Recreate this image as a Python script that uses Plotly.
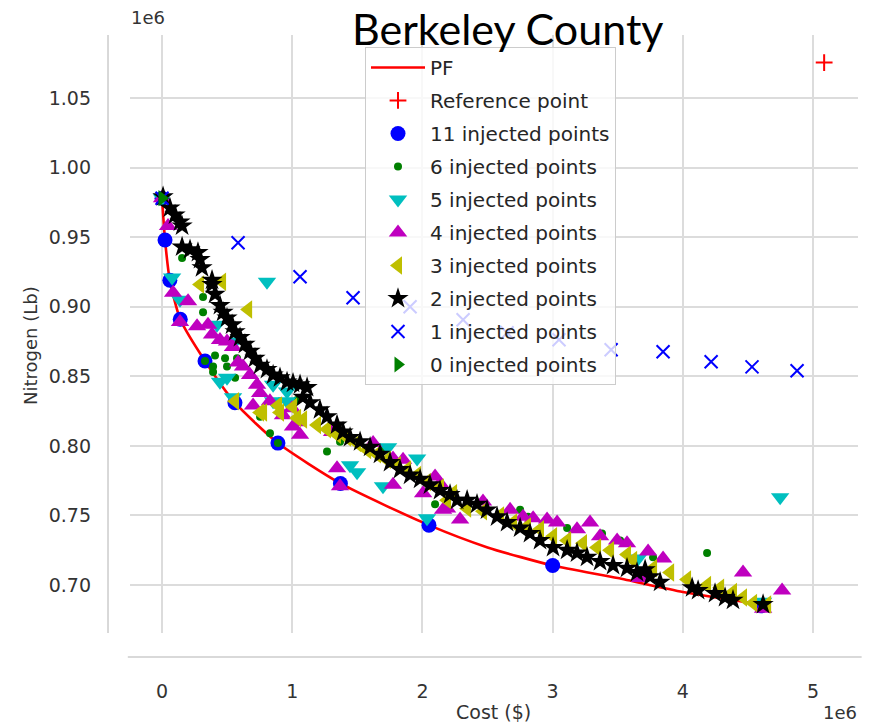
import plotly.graph_objects as go

# Values in units of 1e6 (as on the axes)
pf_cost = [0.0, 0.023, 0.06, 0.14, 0.33, 0.56, 0.89, 1.37, 2.05, 2.5, 3.0, 3.5, 4.0, 4.6]
pf_nitro = [0.978, 0.948, 0.919, 0.891, 0.861, 0.831, 0.802, 0.773, 0.743, 0.727, 0.714, 0.705, 0.695, 0.686]

ref_cost = [5.085]
ref_nitro = [1.0755]

inj11_cost = [0.0, 0.023, 0.06, 0.14, 0.33, 0.56, 0.89, 1.37, 2.05, 3.0, 4.6]
inj11_nitro = [0.978, 0.948, 0.919, 0.891, 0.861, 0.831, 0.802, 0.773, 0.743, 0.714, 0.685]

inj6_cost = [0.154, 0.315, 0.315, 0.407, 0.484, 0.392, 0.499, 0.392, 0.561, 0.576, 0.33, 0.89,
             1.037, 0.829, 0.753, 1.367, 1.267, 1.697, 2.097, 2.75, 2.811, 3.111, 3.379, 3.518,
             3.771, 4.186]
inj6_nitro = [0.935, 0.907, 0.896, 0.865, 0.863, 0.857, 0.857, 0.853, 0.849, 0.863, 0.861, 0.802,
              0.833, 0.809, 0.821, 0.803, 0.796, 0.797, 0.758, 0.754, 0.749, 0.741, 0.737, 0.732,
              0.720, 0.723]

inj5_cost = [0.0, 0.806, 0.077, 0.138, 0.422, 0.499, 0.561, 0.853, 0.960, 0.545, 0.445, 0.853,
             0.96, 1.444, 1.498, 1.736, 1.959, 1.697, 2.035, 3.656, 4.747, 4.616]
inj5_nitro = [0.978, 0.918, 0.921, 0.905, 0.887, 0.849, 0.875, 0.844, 0.839, 0.835, 0.846, 0.832,
              0.832, 0.786, 0.781, 0.799, 0.791, 0.771, 0.748, 0.719, 0.763, 0.688]

inj4_cost = [0.0, 0.046, 0.085, 0.200, 0.138, 0.269, 0.353, 0.384, 0.445, 0.499, 0.545, 0.584,
             0.622, 0.676, 0.730, 0.753, 0.699, 0.829, 0.929, 0.998, 1.037, 1.006, 1.060, 1.344,
             1.367, 1.306, 1.621, 1.774, 1.851, 1.774, 2.005, 2.097, 2.158, 2.135, 2.289, 2.189,
             2.465, 2.673, 2.773, 2.85, 2.957, 3.034, 3.187, 3.287, 3.364, 3.495, 3.571, 3.733,
             3.848, 4.462, 4.762, 4.616, 3.671]
inj4_nitro = [0.978, 0.958, 0.910, 0.904, 0.889, 0.886, 0.887, 0.880, 0.876, 0.875, 0.871, 0.860,
              0.857, 0.851, 0.844, 0.838, 0.829, 0.832, 0.822, 0.827, 0.817, 0.814, 0.808, 0.784,
              0.771, 0.810, 0.802, 0.791, 0.790, 0.772, 0.766, 0.778, 0.754, 0.773, 0.747, 0.755,
              0.760, 0.754, 0.749, 0.748, 0.747, 0.745, 0.740, 0.745, 0.735, 0.732, 0.730, 0.724,
              0.719, 0.709, 0.696, 0.683, 0.705]

inj3_cost = [0.292, 0.461, 0.661, 0.561, 0.753, 0.891, 1.037, 0.776, 0.906, 1.006, 1.083, 1.190,
             1.267, 1.344, 1.421, 1.498, 1.575, 1.651, 1.728, 1.805, 1.882, 1.959, 2.035, 2.135,
             2.235, 2.189, 2.343, 2.465, 2.596, 2.696, 2.803, 2.903, 3.003, 3.111, 3.233, 3.341,
             3.441, 3.571, 3.618, 3.771, 3.902, 4.032, 4.186, 4.286, 4.385, 4.462, 4.539, 4.647]
inj3_nitro = [0.916, 0.918, 0.898, 0.832, 0.824, 0.829, 0.820, 0.824, 0.824, 0.828, 0.819, 0.815,
              0.812, 0.808, 0.806, 0.802, 0.797, 0.794, 0.790, 0.786, 0.783, 0.779, 0.774, 0.770,
              0.766, 0.761, 0.755, 0.753, 0.750, 0.745, 0.742, 0.740, 0.735, 0.732, 0.730, 0.727,
              0.725, 0.722, 0.718, 0.712, 0.709, 0.704, 0.700, 0.698, 0.695, 0.691, 0.687, 0.686]

inj2_cost = [0.008, 0.061, 0.100, 0.138, 0.154, 0.154, 0.215, 0.276, 0.292, 0.307, 0.384, 0.384,
             0.407, 0.445, 0.469, 0.499, 0.538, 0.561, 0.599, 0.637, 0.676, 0.714, 0.753, 0.806,
             0.853, 0.906, 0.960, 1.006, 1.060, 1.114, 1.083, 1.137, 1.213, 1.267, 1.344, 1.390,
             1.444, 1.521, 1.598, 1.674, 1.751, 1.828, 1.905, 1.982, 2.058, 2.135, 2.212, 2.266,
             2.343, 2.419, 2.496, 2.573, 2.650, 2.750, 2.826, 2.903, 3.003, 3.111, 3.187, 3.264,
             3.364, 3.464, 3.571, 3.648, 3.710, 3.748, 3.825, 4.071, 4.117, 4.247, 4.324, 4.385,
             4.616]
inj2_nitro = [0.979, 0.971, 0.966, 0.961, 0.958, 0.943, 0.941, 0.939, 0.934, 0.928, 0.919, 0.916,
              0.909, 0.901, 0.896, 0.892, 0.887, 0.882, 0.878, 0.873, 0.868, 0.863, 0.858, 0.855,
              0.851, 0.849, 0.846, 0.845, 0.844, 0.842, 0.835, 0.831, 0.826, 0.821, 0.815, 0.810,
              0.806, 0.803, 0.799, 0.794, 0.788, 0.783, 0.779, 0.776, 0.772, 0.768, 0.765, 0.761,
              0.761, 0.758, 0.754, 0.749, 0.745, 0.741, 0.737, 0.732, 0.727, 0.725, 0.723, 0.720,
              0.717, 0.714, 0.712, 0.709, 0.711, 0.706, 0.702, 0.698, 0.696, 0.694, 0.691, 0.689,
              0.686]

inj1_cost = [0.0, 0.584, 1.06, 1.467, 1.905, 2.312, 2.650, 3.049, 3.449, 3.848, 4.217, 4.531, 4.877]
inj1_nitro = [0.978, 0.946, 0.9216, 0.9065, 0.900, 0.8906, 0.8813, 0.8763, 0.8691, 0.8676, 0.8604,
              0.8568, 0.8540]

inj0_cost = [0.0]
inj0_nitro = [0.978]

x_ticks = [0, 1, 2, 3, 4, 5]
y_ticks = [0.70, 0.75, 0.80, 0.85, 0.90, 0.95, 1.00, 1.05]

FONT = "DejaVu Sans"
fig = go.Figure()

fig.add_trace(go.Scatter(x=pf_cost, y=pf_nitro, mode="lines", name="PF",
                         line=dict(color="red", width=2.6, shape="spline", smoothing=0.6),
                         legendgroup="a"))
fig.add_trace(go.Scatter(x=ref_cost, y=ref_nitro, mode="markers", name="Reference point",
                         marker=dict(symbol="cross-thin", size=12, line=dict(color="red", width=2)),
                         legendgroup="b"))
fig.add_trace(go.Scatter(x=inj11_cost, y=inj11_nitro, mode="markers", name="11 injected points",
                         marker=dict(symbol="circle", size=15, color="#0000ff"), legendgroup="c"))
fig.add_trace(go.Scatter(x=inj6_cost, y=inj6_nitro, mode="markers", name="6 injected points",
                         marker=dict(symbol="circle", size=8, color="#008000"), legendgroup="d"))
fig.add_trace(go.Scatter(x=inj5_cost, y=inj5_nitro, mode="markers", name="5 injected points",
                         marker=dict(symbol="triangle-down", size=16, color="#00bfbf"), legendgroup="e"))
fig.add_trace(go.Scatter(x=inj4_cost, y=inj4_nitro, mode="markers", name="4 injected points",
                         marker=dict(symbol="triangle-up", size=16, color="#bf00bf"), legendgroup="f"))
fig.add_trace(go.Scatter(x=inj3_cost, y=inj3_nitro, mode="markers", name="3 injected points",
                         marker=dict(symbol="triangle-left", size=16, color="#bfbf00"), legendgroup="g"))
fig.add_trace(go.Scatter(x=inj2_cost, y=inj2_nitro, mode="markers", name="2 injected points",
                         marker=dict(symbol="star", size=16, color="black"), legendgroup="h"))
fig.add_trace(go.Scatter(x=inj1_cost, y=inj1_nitro, mode="markers", name="1 injected points",
                         marker=dict(symbol="x-thin", size=13, line=dict(color="#0000ff", width=2)),
                         legendgroup="i"))
fig.add_trace(go.Scatter(x=inj0_cost, y=inj0_nitro, mode="markers", name="0 injected points",
                         marker=dict(symbol="triangle-right", size=14, color="#008000"), legendgroup="j"))

grid = "#dcdcdc"
fig.update_layout(
    width=871, height=724,
    margin=dict(l=130, r=13, t=35, b=91),
    plot_bgcolor="white", paper_bgcolor="white",
    font=dict(family=FONT, size=19, color="#333333"),
    showlegend=True,
    legend=dict(x=0.3228, y=0.98, xanchor="left", yanchor="top",
                bgcolor="rgba(255,255,255,0.8)", bordercolor="#cccccc", borderwidth=1,
                font=dict(family=FONT, size=20, color="#262626"),
                tracegroupgap=4, itemwidth=54),
    xaxis=dict(range=[-0.246, 5.345], tickvals=x_ticks, ticktext=[str(v) for v in x_ticks],
               showgrid=True, gridcolor=grid, gridwidth=1.5, zeroline=False, showline=False,
               ticks="", ticklabelstandoff=45),
    yaxis=dict(range=[0.6655, 1.0953], tickvals=y_ticks, ticktext=[f"{v:.2f}" for v in y_ticks],
               showgrid=True, gridcolor=grid, gridwidth=1.5, zeroline=False, showline=False,
               ticks="", ticklabelstandoff=38),
    shapes=[
        dict(type="line", xref="paper", yref="paper", x0=-0.0302, x1=-0.0302, y0=0, y1=1,
             line=dict(color="#cccccc", width=1.5)),
        dict(type="line", xref="paper", yref="paper", x0=-0.003, x1=1.005, y0=-0.0401, y1=-0.0401,
             line=dict(color="#cccccc", width=1.5)),
    ],
    annotations=[
        dict(text="Berkeley County", xref="paper", yref="paper", x=0.519, y=1.0117,
             xanchor="center", yanchor="middle", showarrow=False,
             font=dict(family="Lato", size=43, color="black")),
        dict(text="1e6", xref="paper", yref="paper", x=(148 - 130) / 728, y=1 + (35 - 18) / 598,
             xanchor="center", yanchor="middle", showarrow=False, font=dict(size=18)),
        dict(text="1e6", xref="paper", yref="paper", x=(840 - 130) / 728, y=-(712 - 633) / 598,
             xanchor="center", yanchor="middle", showarrow=False, font=dict(size=18)),
        dict(text="Cost ($)", xref="paper", yref="paper", x=(493 - 130) / 728, y=-(712 - 633) / 598,
             xanchor="center", yanchor="middle", showarrow=False, font=dict(size=19)),
        dict(text="Nitrogen (Lb)", xref="paper", yref="paper", x=-(130 - 30) / 728, y=1 - (345 - 35) / 598,
             xanchor="center", yanchor="middle", showarrow=False, textangle=-90, font=dict(size=18)),
    ],
)

fig.write_html("out.html", config={"displayModeBar": False},
               post_script="document.body.style.margin='0';")
